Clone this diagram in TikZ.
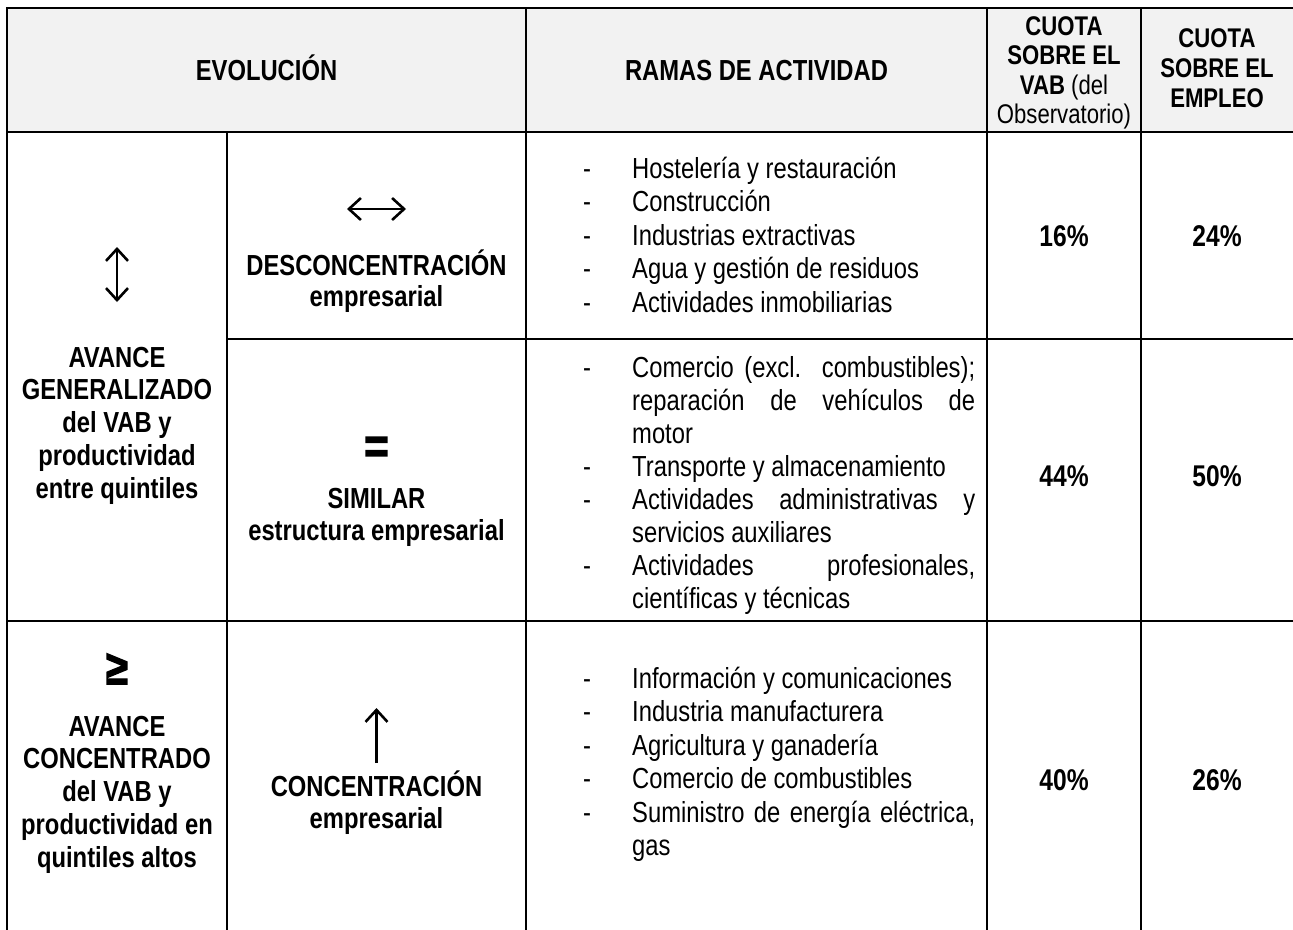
\documentclass[tikz,border=0pt]{standalone}
\usepackage{fontspec}
\setmainfont{Liberation Sans}[FakeStretch=0.82]
\newfontfamily\heavysym{Liberation Sans Bold}[FakeStretch=0.82,FakeBold=3]
\usetikzlibrary{arrows.meta}
\definecolor{hdrfill}{HTML}{F2F2F2}
\begin{document}
\begin{tikzpicture}[x=1pt,y=-1pt,
  gridline/.style={line width=2.4pt, line cap=rect},
  hd/.style={inner sep=0pt, anchor=base, font=\fontsize{29}{33}\selectfont\bfseries},
  blk/.style={inner sep=0pt, anchor=north},
  lst/.style={inner sep=0pt, anchor=north west},
  pct/.style={inner sep=0pt, anchor=base, font=\fontsize{30}{33}\selectfont\bfseries},
  sym/.style={inner sep=0pt},
  onearrow/.style={line width=2.6pt, arrows={-Straight Barb[length=12pt,width=22pt]}},
  twoarrow/.style={line width=2.6pt, arrows={Straight Barb[length=12pt,width=22pt]-Straight Barb[length=12pt,width=22pt]}},
]
\useasboundingbox (0,0) rectangle (1293,929);
% header background
\fill[hdrfill] (7,8) rectangle (1293,132);
% grid
\draw[gridline] (7,8) -- (1293,8);
\draw[gridline] (7,132) -- (1293,132);
\draw[gridline] (227,339) -- (1293,339);
\draw[gridline] (7,621) -- (1293,621);
\draw[gridline] (7,8) -- (7,929);
\draw[gridline] (227,132) -- (227,929);
\draw[gridline] (526,8) -- (526,929);
\draw[gridline] (987,8) -- (987,929);
\draw[gridline] (1141,8) -- (1141,929);

% header texts
\node[hd] (evo) at (266.5,80.5) {EVOLUCIÓN};
\node[hd] (ramas) at (756.5,80.5) {RAMAS DE ACTIVIDAD};
\node[blk, font=\fontsize{27}{29.5}\selectfont] (vab) at (1064,14.4)
  {\begin{tabular}{@{}c@{}}\textbf{CUOTA}\\\textbf{SOBRE EL}\\\textbf{VAB} (del\\Observatorio)\end{tabular}};
\node[blk, font=\fontsize{27}{30}\selectfont\bfseries] (emp) at (1217,26)
  {\begin{tabular}{@{}c@{}}CUOTA\\SOBRE EL\\EMPLEO\end{tabular}};

% column 0
\draw[twoarrow] (117,247) -- (117,302);
\node[blk, font=\fontsize{29}{32.75}\selectfont\bfseries] (gen) at (117,344.1)
  {\begin{tabular}{@{}c@{}}AVANCE\\GENERALIZADO\\del VAB y\\productividad\\entre quintiles\end{tabular}};
\node[sym, font=\fontsize{48}{48}\selectfont\heavysym] (geq) at (117,669) {≥};
\node[blk, font=\fontsize{29}{32.75}\selectfont\bfseries] (conc) at (117,713.1)
  {\begin{tabular}{@{}c@{}}AVANCE\\CONCENTRADO\\del VAB y\\productividad en\\quintiles altos\end{tabular}};

% column 1
\draw[twoarrow] (347,209) -- (406,209);
\node[blk, font=\fontsize{29}{31}\selectfont\bfseries] (desc) at (376.5,249.3)
  {\begin{tabular}{@{}c@{}}DESCONCENTRACIÓN\\empresarial\end{tabular}};
\node[sym, font=\fontsize{50}{50}\selectfont\heavysym] (eq) at (376.5,450) {=};
\node[blk, font=\fontsize{29}{32}\selectfont\bfseries] (sim) at (376.5,485.6)
  {\begin{tabular}{@{}c@{}}SIMILAR\\estructura empresarial\end{tabular}};
\draw[onearrow] (376.5,763) -- (376.5,708);
\node[blk, font=\fontsize{29}{32}\selectfont\bfseries] (concent) at (376.5,770.6)
  {\begin{tabular}{@{}c@{}}CONCENTRACIÓN\\empresarial\end{tabular}};

% column 2 lists
\node[lst, font=\fontsize{29}{33.5}\selectfont] (list1) at (583,154.5)
  {\begin{tabular}{@{}p{49pt}@{}l@{}}
  - & Hostelería y restauración\\
  - & Construcción\\
  - & Industrias extractivas\\
  - & Agua y gestión de residuos\\
  - & Actividades inmobiliarias
  \end{tabular}};
\node[lst, font=\fontsize{29}{33}\selectfont] (list2) at (583,353.9)
  {\begin{tabular}{@{}p{49pt}@{}l@{}}
  - & \makebox[343pt][s]{Comercio (excl. combustibles);}\\
    & \makebox[343pt][s]{reparación de vehículos de}\\
    & motor\\
  - & Transporte y almacenamiento\\
  - & \makebox[343pt][s]{Actividades administrativas y}\\
    & servicios auxiliares\\
  - & \makebox[343pt][s]{Actividades profesionales,}\\
    & científicas y técnicas
  \end{tabular}};
\node[lst, font=\fontsize{29}{33.5}\selectfont] (list3) at (583,664.5)
  {\begin{tabular}{@{}p{49pt}@{}l@{}}
  - & Información y comunicaciones\\
  - & Industria manufacturera\\
  - & Agricultura y ganadería\\
  - & Comercio de combustibles\\
  - & \makebox[343pt][s]{Suministro de energía eléctrica,}\\
    & gas
  \end{tabular}};

% percentages
\node[pct] (p16) at (1064,246.5) {16\%};
\node[pct] (p24) at (1217,246.5) {24\%};
\node[pct] (p44) at (1064,486) {44\%};
\node[pct] (p50) at (1217,486) {50\%};
\node[pct] (p40) at (1064,790) {40\%};
\node[pct] (p26) at (1217,790) {26\%};
\end{tikzpicture}
\end{document}
